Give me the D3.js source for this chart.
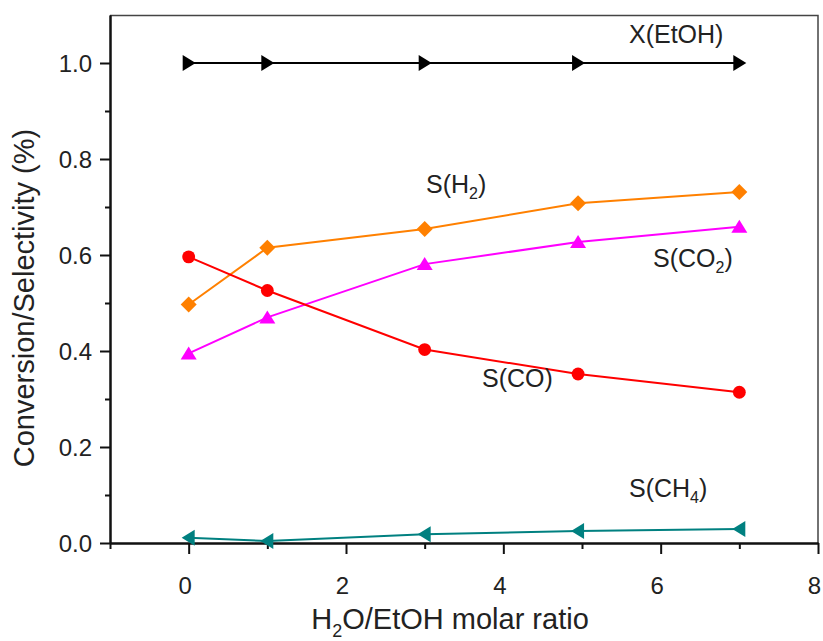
<!DOCTYPE html>
<html>
<head>
<meta charset="utf-8">
<script src="https://cdn.jsdelivr.net/npm/d3@7"></script>
<style>
  body { margin: 0; background: #fff; }
  svg text { font-family: "Liberation Sans", Arial, sans-serif; fill: #222; }
</style>
</head>
<body>
<div id="chart"></div>
<script>
// data
var ratio = [0, 1, 3, 4.95, 7];
var xEtOH = [1.0, 1.0, 1.0, 1.0, 1.0];
var sH2 = [0.497, 0.615, 0.654, 0.708, 0.731];
var sCO2 = [0.395, 0.47, 0.581, 0.627, 0.659];
var sCO = [0.596, 0.526, 0.403, 0.352, 0.314];
var sCH4 = [0.011, 0.004, 0.018, 0.025, 0.029];

var xMajor = [0, 2, 4, 6, 8];
var xMinor = [-1, 1, 3, 5, 7];
var yMajor = [0, 0.2, 0.4, 0.6, 0.8, 1.0];
var yMinor = [0.1, 0.3, 0.5, 0.7, 0.9];

var svgWidth = 823, svgHeight = 641;
var margin = { top: 15, right: 5, bottom: 98, left: 110 };
var width = svgWidth - margin.left - margin.right;
var height = svgHeight - margin.top - margin.bottom;

var svg = d3.select("#chart").append("svg")
  .attr("width", svgWidth)
  .attr("height", svgHeight);

var chartGroup = svg.append("g")
  .attr("transform", `translate(${margin.left}, ${margin.top})`);

var xScale = d3.scaleLinear().domain([-1, 8]).range([0, width]);
var yScale = d3.scaleLinear().domain([0, 1.1]).range([height, 0]);

// frame top/right
chartGroup.append("path")
  .attr("d", `M0,0.5H${width}V${height}`)
  .attr("fill", "none")
  .attr("stroke", "#444")
  .attr("stroke-width", 1.5);

// axes
var bottomAxis = d3.axisBottom(xScale).tickValues(xMajor).tickSize(11).tickSizeOuter(0).tickPadding(23);
var leftAxis = d3.axisLeft(yScale).tickValues(yMajor).tickSize(10).tickSizeOuter(0).tickPadding(8)
  .tickFormat(d3.format(".1f"));

var xAxis = chartGroup.append("g")
  .attr("transform", `translate(0, ${height})`)
  .call(bottomAxis);
xAxis.selectAll("text").attr("font-size", "24px").attr("dx", "-4");

chartGroup.append("g")
  .attr("transform", `translate(0, ${height})`)
  .call(d3.axisBottom(xScale).tickValues(xMinor).tickSize(6).tickSizeOuter(0).tickFormat(""));

var yAxis = chartGroup.append("g").call(leftAxis);
yAxis.selectAll("text").attr("font-size", "24px").attr("dy", "0.36em");

chartGroup.append("g")
  .call(d3.axisLeft(yScale).tickValues(yMinor).tickSize(5).tickSizeOuter(0).tickFormat(""));

chartGroup.selectAll(".domain, .tick line")
  .attr("stroke", "#111")
  .attr("stroke-width", 2);

// series
var series = [
  { name: "xEtOH", values: xEtOH, color: "#000000", symbol: "right" },
  { name: "sH2", values: sH2, color: "#FF8000", symbol: "diamond" },
  { name: "sCO2", values: sCO2, color: "#FF00FF", symbol: "up" },
  { name: "sCO", values: sCO, color: "#FF0000", symbol: "circle" },
  { name: "sCH4", values: sCH4, color: "#008080", symbol: "left" }
];

var line = d3.line()
  .x(function(d, i) { return xScale(ratio[i]); })
  .y(function(d) { return yScale(d); });

function marker(type) {
  if (type === "circle") return d3.symbol().type(d3.symbolCircle).size(130)();
  if (type === "diamond") return "M0,-8L8,0L0,8L-8,0Z";
  if (type === "up") return "M0,-7L8,6L-8,6Z";
  if (type === "left") return "M-7,0L6,-8L6,8Z";
  return "M7,0L-6,-8L-6,8Z";
}

series.forEach(function(s) {
  chartGroup.append("path")
    .datum(s.values)
    .attr("d", line)
    .attr("fill", "none")
    .attr("stroke", s.color)
    .attr("stroke-width", 2);

  chartGroup.selectAll(".pt-" + s.name)
    .data(s.values)
    .enter()
    .append("path")
    .attr("class", "pt-" + s.name)
    .attr("d", marker(s.symbol))
    .attr("transform", function(d, i) { return `translate(${xScale(ratio[i])}, ${yScale(d)})`; })
    .attr("fill", s.color);
});

// annotations
function label(x, y, main, sub, tail) {
  var t = svg.append("text")
    .attr("x", x)
    .attr("y", y)
    .attr("font-size", "25px");
  t.append("tspan").text(main);
  if (sub) {
    t.append("tspan").attr("font-size", "16px").attr("dy", "6").text(sub);
    t.append("tspan").attr("dy", "-6").text(tail);
  }
  return t;
}

label(629, 43, "X(EtOH)");
label(426, 193, "S(H", "2", ")");
label(653, 267, "S(CO", "2", ")");
label(482, 387, "S(CO)");
label(629, 497, "S(CH", "4", ")");

// axis titles
var xt = svg.append("text")
  .attr("x", 450)
  .attr("y", 629)
  .attr("text-anchor", "middle")
  .attr("font-size", "29px");
xt.append("tspan").text("H");
xt.append("tspan").attr("font-size", "18px").attr("dy", "8").text("2");
xt.append("tspan").attr("dy", "-8").text("O/EtOH molar ratio");

svg.append("text")
  .attr("transform", `translate(34, 298) rotate(-90)`)
  .attr("text-anchor", "middle")
  .attr("font-size", "29px")
  .text("Conversion/Selectivity (%)");
</script>
</body>
</html>
